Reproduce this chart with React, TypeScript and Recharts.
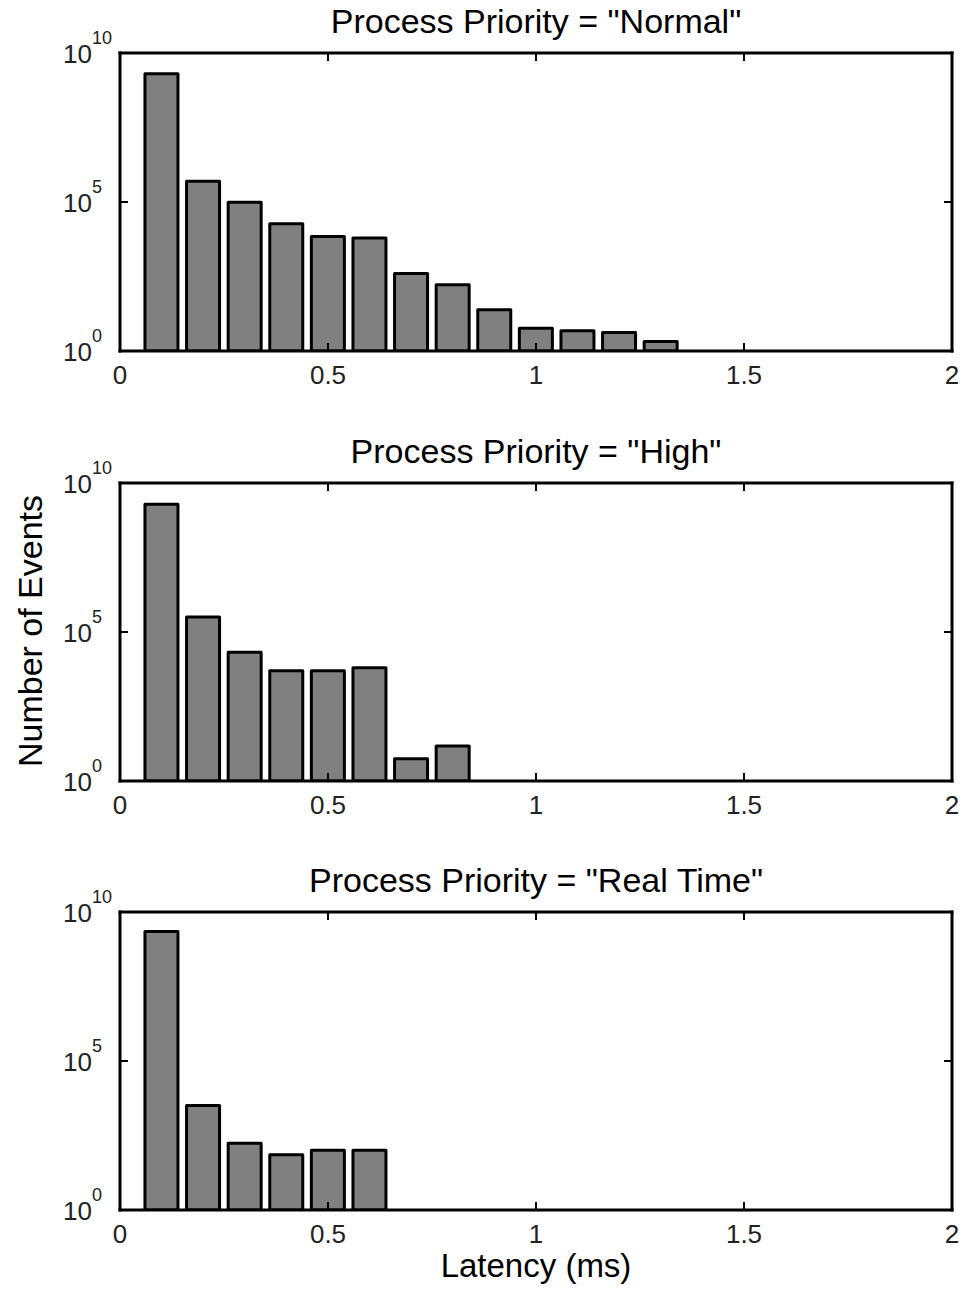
import React from 'react';
import { BarChart, Bar, XAxis, YAxis } from 'recharts';

// ---- data ----
const binCenters = [0.1, 0.2, 0.3, 0.4, 0.5, 0.6, 0.7, 0.8, 0.9, 1.0, 1.1, 1.2, 1.3];
const normalCounts = [2.0e9, 5.0e5, 9.8e4, 1.86e4, 6.9e3, 6.2e3, 400, 166, 24, 5.8, 4.8, 4.2, 2.1];
const highCounts = [1.95e9, 3.2e5, 2.1e4, 5.0e3, 5.0e3, 6.3e3, 5.6, 15];
const realTimeCounts = [2.2e9, 3.2e3, 174, 71, 102, 102];

const xTicks = [0, 0.5, 1, 1.5, 2];
const xTickLabels = ['0', '0.5', '1', '1.5', '2'];
const yTicks = [1, 1e5, 1e10];
const yTickExponents = ['0', '5', '10'];

const titles = [
  'Process Priority = "Normal"',
  'Process Priority = "High"',
  'Process Priority = "Real Time"',
];
const xLabel = 'Latency (ms)';
const yLabel = 'Number of Events';

const FONT = '"Liberation Sans", Arial, Helvetica, sans-serif';

const XTick = (props: any) => {
  const { x, y, payload } = props;
  const i = xTicks.indexOf(payload.value);
  return (
    <text x={x} y={y} textAnchor="middle" fontFamily={FONT} fontSize={26} fill="#222">
      {i >= 0 ? xTickLabels[i] : String(payload.value)}
    </text>
  );
};

const YTick = (props: any) => {
  const { x, y, payload } = props;
  const i = yTicks.indexOf(payload.value);
  return (
    <text x={x} y={y + 10} textAnchor="start" fontFamily={FONT} fontSize={26} fill="#222">
      <tspan>10</tspan>
      <tspan dy={-19} fontSize={18}>{i >= 0 ? yTickExponents[i] : ''}</tspan>
    </text>
  );
};

const EmptyTick = () => <g />;

const CHART_W = 964;
const CHART_H = 440;
const panelTops = [-7, 423, 852];

const axisLineStyle = { stroke: '#000', strokeWidth: 3, strokeLinecap: 'square' as const };
const tickLineStyle = { stroke: '#000', strokeWidth: 2 };

function Panel({ counts, title, index }: { counts: number[]; title: string; index: number }) {
  const data = counts.map((c, i) => ({ latency: binCenters[i], count: c }));
  return (
    <div style={{ position: 'absolute', left: 0, top: panelTops[index], width: CHART_W, height: CHART_H }}>
      <BarChart
        width={CHART_W}
        height={CHART_H}
        data={data}
        margin={{ top: 59, right: 0, bottom: 40, left: 0 }}
        barCategoryGap="10%"
      >
        <XAxis
          xAxisId="bottom"
          dataKey="latency"
          type="number"
          domain={[0, 2]}
          ticks={xTicks}
          interval={0}
          allowDataOverflow
          height={42}
          tickSize={-8}
          tickMargin={41}
          tick={<XTick />}
          axisLine={axisLineStyle}
          tickLine={tickLineStyle}
        />
        <XAxis
          xAxisId="top"
          dataKey="latency"
          orientation="top"
          type="number"
          domain={[0, 2]}
          ticks={xTicks}
          interval={0}
          allowDataOverflow
          height={1}
          tickSize={-8}
          tick={<EmptyTick />}
          axisLine={axisLineStyle}
          tickLine={tickLineStyle}
        />
        <YAxis
          yAxisId="left"
          type="number"
          scale="log"
          domain={[1, 1e10]}
          ticks={yTicks}
          interval={0}
          allowDataOverflow
          width={120}
          tickSize={-8}
          tickMargin={65}
          tick={<YTick />}
          axisLine={axisLineStyle}
          tickLine={tickLineStyle}
        />
        <YAxis
          yAxisId="right"
          dataKey="count"
          orientation="right"
          type="number"
          scale="log"
          domain={[1, 1e10]}
          ticks={yTicks}
          interval={0}
          allowDataOverflow
          width={12}
          tickSize={-8}
          tick={<EmptyTick />}
          axisLine={axisLineStyle}
          tickLine={tickLineStyle}
        />
        <Bar
          xAxisId="bottom"
          yAxisId="left"
          dataKey="count"
          fill="#808080"
          stroke="#000"
          strokeWidth={3}
          strokeLinejoin="round"
          isAnimationActive={false}
        />
        <text x={536} y={40} textAnchor="middle" fontFamily={FONT} fontSize={34} fill="#000">
          {title}
        </text>
        {index === 1 ? (
          <text
            x={42}
            y={208}
            transform="rotate(-90, 42, 208)"
            textAnchor="middle"
            fontFamily={FONT}
            fontSize={34}
            fill="#000"
          >
            {yLabel}
          </text>
        ) : null}
        {index === 2 ? (
          <text x={536} y={425} textAnchor="middle" fontFamily={FONT} fontSize={33} fill="#000">
            {xLabel}
          </text>
        ) : null}
      </BarChart>
    </div>
  );
}

export default function App() {
  const series = [normalCounts, highCounts, realTimeCounts];
  return (
    <div style={{ position: 'absolute', left: 0, top: 0, width: 964, height: 1289, background: '#fff' }}>
      {series.map((s, i) => (
        <Panel key={i} counts={s} title={titles[i]} index={i} />
      ))}
    </div>
  );
}
